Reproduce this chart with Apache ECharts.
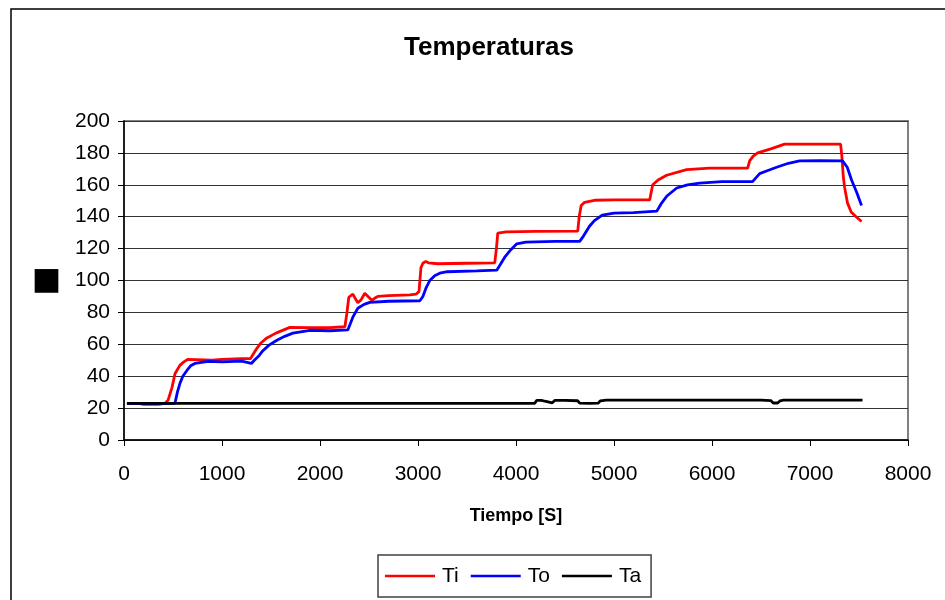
<!DOCTYPE html>
<html>
<head>
<meta charset="utf-8">
<script src="https://cdn.jsdelivr.net/npm/echarts@6/dist/echarts.min.js"></script>
<style>
html,body{margin:0;padding:0;background:#fff;}
#chart{width:945px;height:600px;}
</style>
</head>
<body>
<div id="chart"></div>
<script>
// ---- data (time [s], temperature) ----
const seriesNames = ['Ti', 'To', 'Ta'];
const xTicks = [0, 1000, 2000, 3000, 4000, 5000, 6000, 7000, 8000];
const yTicks = [0, 20, 40, 60, 80, 100, 120, 140, 160, 180, 200];

const ti = [[30,23],[150,23],[200,22.3],[350,22.3],[420,23],[450,25],[490,33],[520,41.5],[570,46.8],[610,49],[650,50.5],[900,50],[1000,50.5],[1200,51],[1290,51],[1310,53],[1356,57.5],[1400,61],[1458,64],[1550,67],[1693,70.6],[1900,70.5],[2100,70.5],[2254,71],[2274,79.4],[2294,89.5],[2335,91.4],[2386,86],[2420,88],[2457,92],[2490,90],[2529,87.6],[2560,89],[2590,90],[2700,90.5],[2917,91],[2980,91.5],[3010,93],[3030,108],[3050,110.8],[3080,112],[3110,111],[3200,110.5],[3500,110.8],[3783,111],[3800,120],[3814,129.7],[3900,130.5],[4200,130.8],[4630,131],[4645,140],[4665,147],[4700,149],[4800,150.3],[5000,150.5],[5364,150.5],[5395,160],[5450,163],[5537,166],[5741,169.5],[5976,170.5],[6364,170.5],[6384,175],[6420,178],[6466,180],[6600,182.5],[6741,185.5],[7312,185.5],[7325,178],[7340,165],[7353,158.5],[7383,148.5],[7420,143],[7470,140],[7526,137]];

const to = [[30,23],[200,22.8],[400,22.8],[520,23],[545,30],[571,35.5],[600,40],[642,43.6],[680,46.5],[724,48],[857,49.3],[1000,49],[1200,49.5],[1300,48],[1330,50],[1380,53],[1417,56],[1480,59.5],[1560,62.5],[1640,65],[1723,67],[1897,68.8],[2100,68.5],[2284,69],[2310,73],[2335,77],[2386,82.6],[2450,85],[2508,86.3],[2700,87],[3019,87.3],[3050,90],[3080,95],[3120,100],[3170,103],[3222,104.6],[3300,105.5],[3600,106],[3804,106.5],[3840,110],[3885,114.6],[3950,119.5],[4008,123],[4100,124],[4400,124.5],[4650,124.5],[4690,128],[4750,134],[4800,137.5],[4880,141],[5000,142.3],[5200,142.5],[5437,143.5],[5480,148],[5540,153],[5640,158],[5750,160],[5874,161],[6100,162],[6414,162],[6450,164.5],[6486,167],[6570,169],[6659,171],[6780,173.5],[6894,175],[7100,175.2],[7332,175],[7380,171],[7424,163],[7475,155.5],[7526,147]];

const ta = [[30,23],[500,23],[1000,23],[2000,23],[3000,23],[4000,23],[4190,23],[4212,24.8],[4260,24.8],[4295,24.3],[4314,23.1],[4370,23.3],[4395,24.8],[4500,24.8],[4630,24.6],[4650,23.1],[4750,23],[4840,23.1],[4860,24.5],[4920,25],[5200,25],[5700,25],[6000,25],[6500,25],[6600,24.7],[6625,23.2],[6670,23.2],[6695,24.6],[6730,25],[7000,25],[7536,25]];

const font = '"Liberation Sans", Arial, sans-serif';
const chart = echarts.init(document.getElementById('chart'), null, {renderer: 'canvas'});
chart.setOption({
  animation: false,
  backgroundColor: '#ffffff',
  graphic: [{
    type: 'rect', silent: true, z: -1,
    shape: {x: 11, y: 9, width: 1200, height: 900},
    style: {fill: 'none', stroke: '#000', lineWidth: 1.5}
  }],
  title: {
    text: 'Temperaturas',
    left: 399, top: 30,
    textStyle: {fontFamily: font, fontSize: 26, fontWeight: 'bold', color: '#000'}
  },
  legend: {
    data: seriesNames,
    left: 378, top: 555,
    padding: [10, 10, 10, 7],
    icon: 'rect',
    itemWidth: 50, itemHeight: 2.5, itemGap: 12,
    borderColor: '#404040', borderWidth: 1.5,
    textStyle: {fontFamily: font, fontSize: 21, color: '#000', padding: [0, 0, 0, 2], lineHeight: 22}
  },
  grid: {
    left: 124, right: 37, top: 121, bottom: 160,
    show: true, borderColor: '#808080', borderWidth: 2, backgroundColor: '#fff'
  },
  xAxis: {
    type: 'value', min: xTicks[0], max: xTicks[xTicks.length - 1], interval: 1000,
    name: 'Tiempo [S]', nameLocation: 'middle', nameGap: 67,
    nameTextStyle: {fontFamily: font, fontSize: 18, fontWeight: 'bold', color: '#000'},
    axisLine: {show: true, onZero: false, lineStyle: {color: '#000', width: 1.5}},
    axisTick: {show: true, inside: false, length: 6, lineStyle: {color: '#000', width: 1}},
    axisLabel: {fontFamily: font, fontSize: 21, color: '#000', margin: 24, formatter: function (v) { return String(v); }},
    splitLine: {show: false}
  },
  yAxis: {
    type: 'value', min: yTicks[0], max: yTicks[yTicks.length - 1], interval: 20,
    name: '\u25A0', nameLocation: 'middle', nameGap: 63, nameRotate: 0,
    nameTextStyle: {fontFamily: '"DejaVu Sans"', fontSize: 31, color: '#000'},
    axisLine: {show: true, lineStyle: {color: '#000', width: 1.5}},
    axisTick: {show: true, inside: false, length: 6, lineStyle: {color: '#000', width: 1}},
    axisLabel: {fontFamily: font, fontSize: 21, color: '#000', margin: 14},
    splitLine: {show: true, lineStyle: {color: '#333', width: 1}}
  },
  series: [
    {name: 'Ti', type: 'line', data: ti, symbol: 'none', color: '#ff0000', lineStyle: {color: '#ff0000', width: 2.8}},
    {name: 'To', type: 'line', data: to, symbol: 'none', color: '#0000ff', lineStyle: {color: '#0000ff', width: 2.8}},
    {name: 'Ta', type: 'line', data: ta, symbol: 'none', color: '#000000', lineStyle: {color: '#000000', width: 2.8}}
  ]
});
</script>
</body>
</html>
